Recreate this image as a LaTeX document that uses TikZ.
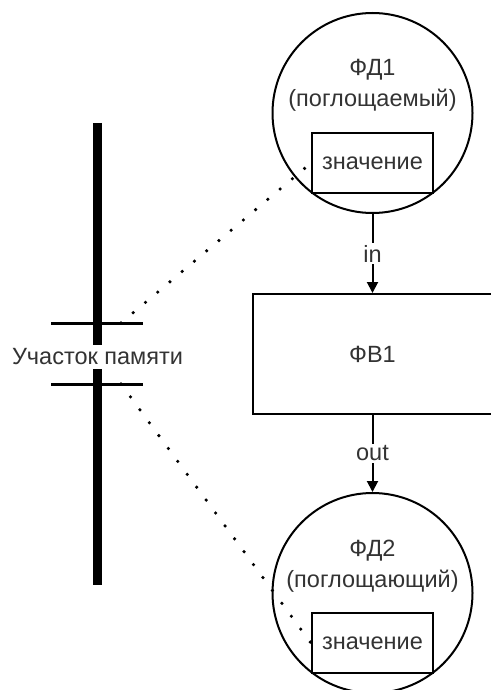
\documentclass[tikz,border=0pt]{standalone}
\usepackage{fontspec}
\setmainfont{Liberation Sans}
\usetikzlibrary{arrows.meta}

\begin{document}
\begin{tikzpicture}
[every node/.style={inner sep=0pt, font=\fontsize{23.5}{31}\selectfont, text=black!80},
 fd/.style={circle, minimum size=200pt, line width=2pt, draw=black},
 valbox/.style={rectangle, minimum width=121pt, minimum height=60pt, line width=2pt, draw=black, fill=white},
 conn/.style={line width=2pt, -{Triangle[length=11pt, width=11pt]}, color=black},
 dots/.style={line width=3.6pt, line cap=round, dash pattern=on 0pt off 16pt}]
\useasboundingbox (0pt, 0pt) rectangle (490pt, -690pt);
\node (fd1) [fd] at (372.5pt, -113pt) {};
\node (fd1 label) [align=center] at (372.5pt, -85pt) {ФД1\\(поглощаемый)};
\node (val1) [valbox] at (372.5pt, -163pt) {значение};
\node (fb1) [rectangle, minimum width=240pt, minimum height=120pt, line width=2pt, draw=black] at (372.5pt, -354pt) {ФВ1};
\node (fd2) [fd] at (372.5pt, -593pt) {};
\node (fd2 label) [align=center] at (372.5pt, -566pt) {ФД2\\(поглощающий)};
\node (val2) [valbox] at (372.5pt, -643pt) {значение};
\draw [conn] (fd1) to node (in label) [fill=white, inner sep=2pt] {in} (fb1);
\draw [conn] (fb1) to node (out label) [fill=white, inner sep=2pt] {out} (fd2);
% memory segment
\coordinate (mem top) at (97.5pt, -123pt);
\coordinate (mem bottom) at (97.5pt, -585pt);
\coordinate (bar1 left) at (51pt, -323pt);
\coordinate (bar1 right) at (143pt, -323pt);
\coordinate (bar2 left) at (51pt, -384pt);
\coordinate (bar2 right) at (143pt, -384pt);
\coordinate (bar1 tap) at (121pt, -323pt);
\coordinate (bar2 tap) at (121pt, -384pt);
\draw [line width=9.5pt, color=black] (mem top) -- (mem bottom);
\node (mem) [fill=white, inner ysep=4pt, inner xsep=1pt] at (97.5pt, -357pt) {Участок памяти};
\draw [line width=3pt, color=black] (bar1 left) -- (bar1 right);
\draw [line width=3pt, color=black] (bar2 left) -- (bar2 right);
\draw [dots] (bar1 tap) -- (val1.west);
\draw [dots] (bar2 tap) -- (val2.west);
\end{tikzpicture}
\end{document}
